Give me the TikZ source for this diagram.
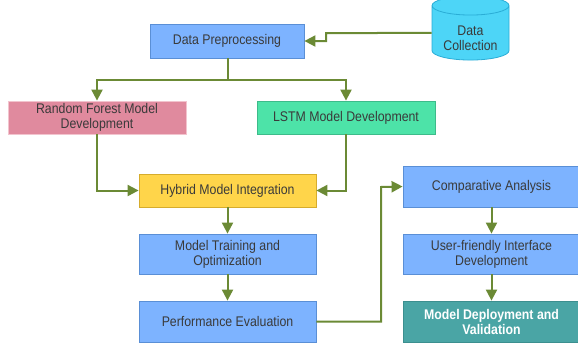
\documentclass[tikz,border=0pt]{standalone}
\usepackage{fontspec}
\setmainfont{Liberation Sans}[FakeStretch=0.88]
\usetikzlibrary{arrows.meta,shapes.geometric}
\definecolor{arrowc}{HTML}{6B8A35}
\definecolor{txt}{HTML}{3A3A3A}
\definecolor{bluef}{HTML}{7DB3FF}
\definecolor{blued}{HTML}{5A8FD6}
\definecolor{pinkf}{HTML}{E08A9E}
\definecolor{pinkd}{HTML}{F2C4CE}
\definecolor{greenf}{HTML}{4DE3A8}
\definecolor{greend}{HTML}{3DBB8A}
\definecolor{yellowf}{HTML}{FFD54A}
\definecolor{yellowd}{HTML}{D6AC2C}
\definecolor{tealf}{HTML}{4AA5A5}
\definecolor{teald}{HTML}{3C8F8F}
\definecolor{cylf}{HTML}{4DD5F7}
\definecolor{cyld}{HTML}{2AADD6}
\begin{document}
\begin{tikzpicture}[x=1pt,y=-1pt,
  box/.style={rectangle, line width=0.8pt, minimum width=177pt, inner sep=1pt,
    align=center, text=txt, font=\fontsize{14}{15}\selectfont},
  bluebox/.style={box, draw=blued, fill=bluef},
  conn/.style={draw=arrowc, line width=2pt, -{Triangle[width=11pt,length=11pt]}},
  line/.style={draw=arrowc, line width=2pt}]
\useasboundingbox (0,0) rectangle (578,343);
\clip (0,0) rectangle (578,343);
\node[bluebox, minimum width=154pt, minimum height=34pt] (dp) at (227,41) {Data Preprocessing};
\node[cylinder, shape border rotate=90, aspect=0.35, minimum width=77pt, minimum height=52pt,
  draw=cyld, fill=cylf, line width=0.8pt, align=center, text=txt,
  font=\fontsize{14}{15}\selectfont, inner sep=0pt] (dc) at (470.5,33) {\rule{0pt}{20pt}Data\\Collection};
\node[box, draw=pinkd, fill=pinkf, minimum width=178pt, minimum height=33pt] (rf) at (97,117.5) {Random Forest Model\\Development};
\node[box, draw=greend, fill=greenf, minimum width=178pt, minimum height=33pt] (lstm) at (346,117.5) {LSTM Model Development};
\node[box, draw=yellowd, fill=yellowf, minimum height=33pt] (hy) at (227.5,190.5) {Hybrid Model Integration};
\node[bluebox, minimum height=40pt] (mt) at (227.5,254) {Model Training and\\Optimization};
\node[bluebox, minimum height=41pt] (pe) at (227.5,321.5) {Performance Evaluation};
\node[bluebox, minimum height=41pt] (ca) at (491.5,186.5) {Comparative Analysis};
\node[bluebox, minimum height=40pt] (ui) at (491.5,254) {User-friendly Interface\\Development};
\node[box, draw=teald, fill=tealf, minimum height=41pt, text=white, font=\fontsize{14}{15}\selectfont\bfseries] (md) at (491.5,321.5) {Model Deployment and\\Validation};
\coordinate (split) at (228,80);
\draw[conn] (dc.west) -- (326,33) -- (326,41) -- (dp.east);
\draw[line] (dp.south -| split) -- (split);
\draw[conn] (split) -| (rf.north);
\draw[conn] (split) -| (lstm.north);
\draw[conn] (rf.south) |- (hy.west);
\draw[conn] (lstm.south) |- (hy.east);
\draw[conn] (hy.south) -- (mt.north);
\draw[conn] (mt.south) -- (pe.north);
\draw[conn] (pe.east) -- (381,321.5) -- (381,187) -- (ca.west);
\draw[conn] (ca.south) -- (ui.north);
\draw[conn] (ui.south) -- (md.north);
\end{tikzpicture}
\end{document}
